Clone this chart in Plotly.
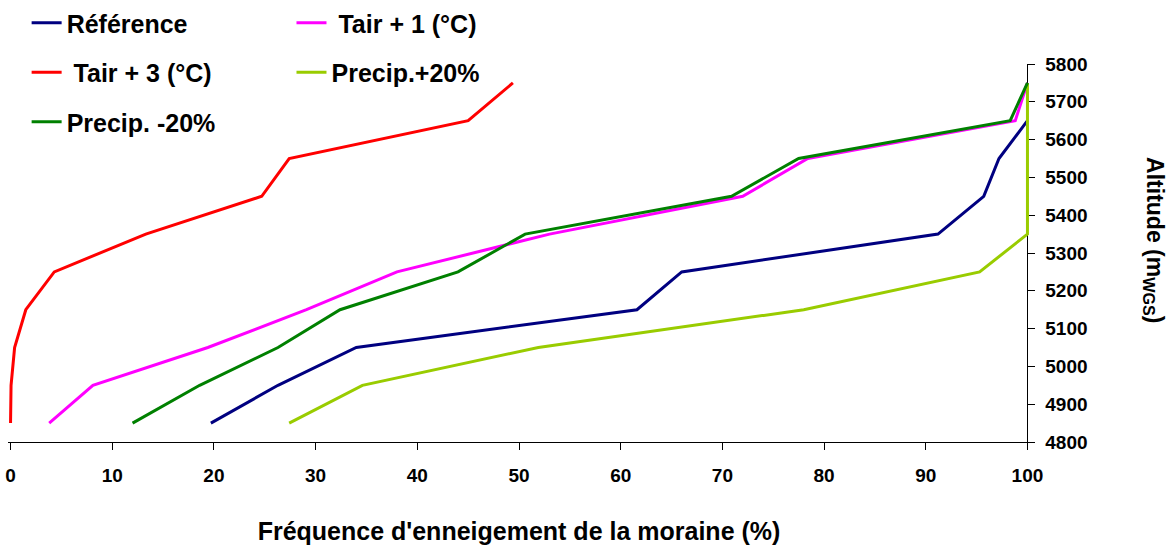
import plotly.graph_objects as go

altitude = [4850, 4950, 5050, 5150, 5250, 5350, 5450, 5550, 5650, 5750]

reference = [19.7, 26.3, 34.0, 61.6, 66.0, 91.2, 95.7, 97.2, 100.0]
tair1 = [3.8, 8.1, 19.4, 29.1, 38.0, 53.0, 72.0, 78.4, 98.8, 100.0]
tair3 = [0.0, 0.05, 0.4, 1.5, 4.3, 13.3, 24.7, 27.4, 45.0, 49.4]
precip_plus = [27.4, 34.6, 51.9, 78.0, 95.3, 100.0, 100.0, 100.0, 100.0, 100.0]
precip_minus = [12.0, 18.6, 26.3, 32.4, 44.0, 50.6, 70.9, 77.5, 98.3, 100.0]

names = ["Référence", " Tair + 1 (°C)", " Tair + 3 (°C)", "Precip.+20%", "Precip. -20%"]
colors = ["#000080", "#FF00FF", "#FF0000", "#99CC00", "#008000"]
series = [reference, tair1, tair3, precip_plus, precip_minus]
legends = ["legend", "legend2", "legend", "legend2", "legend"]

FONT = "Arial, Liberation Sans, sans-serif"

X_PAD = 0.25
x_lo, x_hi = 0 - X_PAD, 100 + X_PAD

fig = go.Figure()
for i, (nm, col, xs, lg) in enumerate(zip(names, colors, series, legends)):
    fig.add_trace(go.Scatter(
        x=xs, y=altitude[:len(xs)], mode="lines", name=nm,
        line=dict(color=col, width=3), legend=lg, legendgroup=f"g{i}",
    ))

legend_font = dict(family=FONT, size=25, color="black", weight="bold")
fig.update_layout(
    width=1173, height=545,
    margin=dict(l=8.46, r=143.46, t=64, b=103, autoexpand=False),
    plot_bgcolor="white", paper_bgcolor="white",
    font=dict(family=FONT, color="black"),
    legend=dict(x=0.0227, y=1.003, xref="container", yref="container",
                xanchor="left", yanchor="top", font=legend_font,
                bgcolor="rgba(0,0,0,0)", tracegroupgap=14, traceorder="grouped"),
    legend2=dict(x=0.2485, y=1.003, xref="container", yref="container",
                 xanchor="left", yanchor="top", font=legend_font,
                 bgcolor="rgba(0,0,0,0)", tracegroupgap=14, traceorder="grouped"),
    xaxis=dict(range=[x_lo, x_hi], tickvals=list(range(0, 101, 10)),
               showgrid=False, zeroline=False, showline=True, linecolor="black",
               linewidth=1, ticks="outside", ticklen=7, tickcolor="black",
               ticklabelstandoff=9, ticklabeloverflow="allow",
               tickfont=dict(family=FONT, size=19, weight="bold"),
               title=dict(text="Fréquence d'enneigement de la moraine (%)",
                          font=dict(family=FONT, size=25, weight="bold"), standoff=37)),
    yaxis=dict(range=[4800, 5800], tickvals=list(range(4800, 5801, 100)),
               side="right", anchor="free", position=(100 - x_lo) / (x_hi - x_lo),
               showgrid=False, zeroline=False, showline=True, layer="below traces",
               linecolor="black", linewidth=1, ticks="outside", ticklen=7,
               tickcolor="black", ticklabelstandoff=6, ticklabeloverflow="allow",
               tickfont=dict(family=FONT, size=19, weight="bold")),
)

fig.add_annotation(
    text="Altitude (m<sub>WGS</sub>)", textangle=90, xref="paper", yref="paper",
    x=1.121, y=0.535, xanchor="center", yanchor="middle", showarrow=False,
    font=dict(family=FONT, size=23, color="black", weight="bold"),
)

fig.write_html("out.html", config={"displayModeBar": False},
               post_script="document.body.style.margin='0px';")
